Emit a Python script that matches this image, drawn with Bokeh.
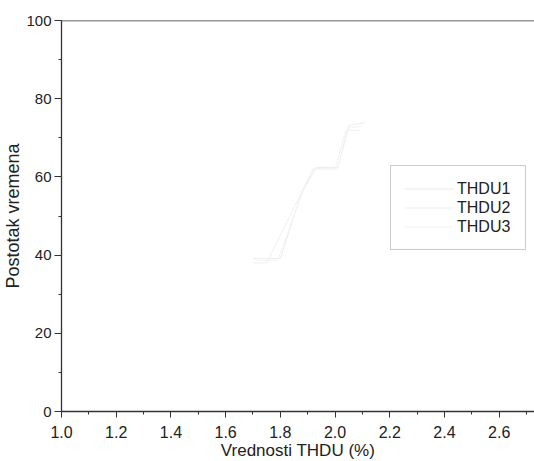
from bokeh.plotting import figure
from bokeh.models import Range1d, Legend, LegendItem, Span, FixedTicker
from bokeh.embed import file_html
from bokeh.resources import INLINE

# Data read from the (very faint) curves
thdu1_x = [1.70, 1.80, 1.88, 1.93, 2.01, 2.05, 2.11]
thdu1_y = [39.1, 39.1, 56.5, 62.4, 62.4, 73.1, 73.9]
thdu2_x = [1.70, 1.75, 1.87, 1.92, 2.00, 2.04, 2.09]
thdu2_y = [38.0, 38.0, 55.0, 62.0, 62.0, 71.9, 71.9]
thdu3_x = [1.71, 1.79, 1.88, 1.93, 2.01, 2.05, 2.10]
thdu3_y = [38.6, 38.6, 56.0, 62.2, 62.2, 72.5, 73.0]
series_names = ["THDU1", "THDU2", "THDU3"]
x_ticks = [1.0, 1.2, 1.4, 1.6, 1.8, 2.0, 2.2, 2.4, 2.6]
x_minor = [1.1, 1.3, 1.5, 1.7, 1.9, 2.1, 2.3, 2.5, 2.7]
y_ticks = [0, 20, 40, 60, 80, 100]
y_minor = [10, 30, 50, 70, 90]

FONT = "Liberation Sans"

p = figure(frame_width=473, frame_height=391, output_backend="svg", toolbar_location=None,
           x_range=Range1d(1.0, 2.729), y_range=Range1d(0, 100),
           min_border_left=61, min_border_top=20, min_border_right=0, min_border_bottom=45)
p.outline_line_color = None
p.xgrid.visible = False
p.ygrid.visible = False
p.background_fill_color = "white"

colors = ["#ececec", "#f0f0f0", "#f3f3f3"]
rs = []
for xs, ys, c in zip([thdu1_x, thdu2_x, thdu3_x], [thdu1_y, thdu2_y, thdu3_y], colors):
    rs.append(p.line(xs, ys, line_color=c, line_width=1))

p.xaxis.ticker = FixedTicker(ticks=x_ticks, minor_ticks=x_minor)
p.yaxis.ticker = FixedTicker(ticks=y_ticks, minor_ticks=y_minor)
p.xaxis.major_label_overrides = {t: f"{t:.1f}" for t in x_ticks}

for ax in (p.xaxis[0], p.yaxis[0]):
    ax.axis_line_color = "#333333"
    ax.axis_line_width = 1.3
    ax.major_tick_line_color = "#333333"
    ax.minor_tick_line_color = "#333333"
    ax.major_tick_in = 0
    ax.minor_tick_in = 0
    ax.major_label_text_font = FONT
    ax.major_label_text_color = "#222222"
    ax.axis_label_text_font = FONT
    ax.axis_label_text_font_style = "normal"
    ax.axis_label_text_color = "#222222"

p.xaxis.major_label_text_font_size = "16px"
p.yaxis.major_label_text_font_size = "15px"
p.xaxis.axis_label_text_font_size = "17px"
p.yaxis.axis_label_text_font_size = "18px"
p.xaxis.major_tick_out = 6
p.xaxis.minor_tick_out = 3
p.yaxis.major_tick_out = 7
p.yaxis.minor_tick_out = 3
p.xaxis.axis_label = "Vrednosti THDU (%)"
p.yaxis.axis_label = "Postotak vremena"
p.xaxis.major_label_standoff = 8
p.yaxis.major_label_standoff = 3
p.xaxis.axis_label_standoff = 0
p.yaxis.axis_label_standoff = 0

top = Span(location=100, dimension="width", line_color="#333333", line_width=1.3)
p.add_layout(top)

legend = Legend(items=[LegendItem(label=n, renderers=[r]) for n, r in zip(series_names, rs)],
                location=(329, 161))
legend.border_line_color = "#9a9a9a"
legend.border_line_width = 1.5
legend.background_fill_alpha = 1.0
legend.label_text_font = FONT
legend.label_text_font_size = "16px"
legend.label_text_color = "#222222"
legend.padding = 13
legend.spacing = 0
legend.glyph_width = 50
legend.glyph_height = 19
legend.label_height = 19
legend.label_standoff = 3
legend.label_width = 55
legend.margin = 0
p.add_layout(legend, "center")

open("out.html", "w").write(file_html(p, INLINE))
